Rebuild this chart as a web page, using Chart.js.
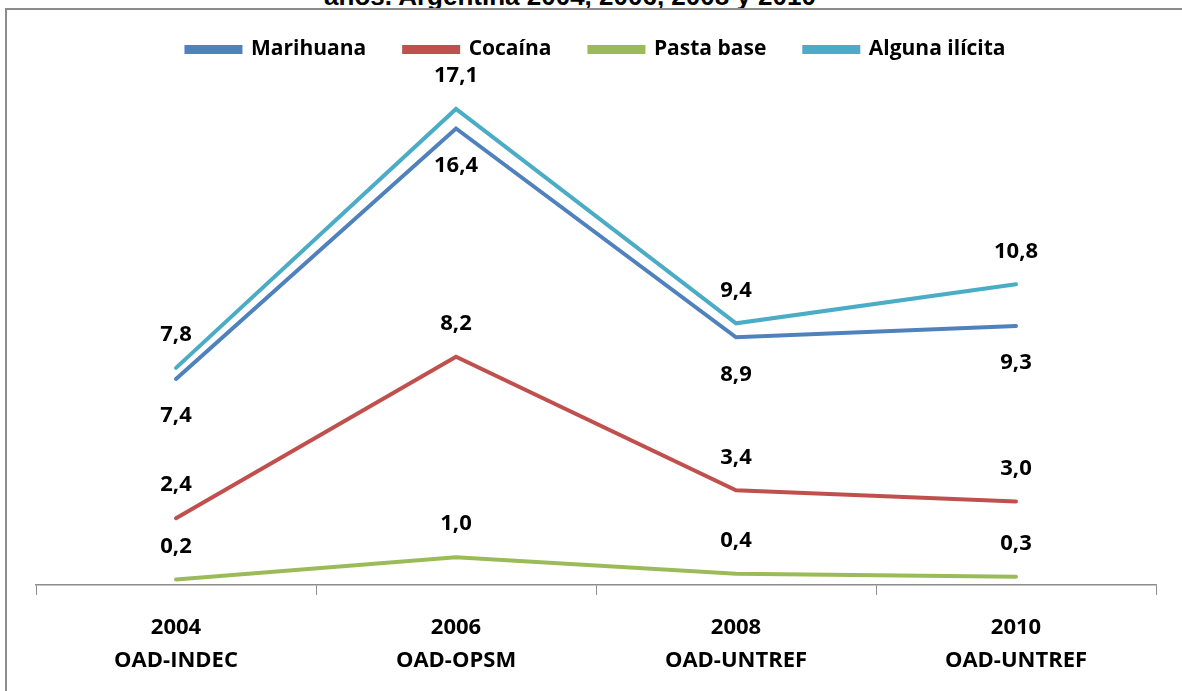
<!DOCTYPE html>
<html>
<head>
<meta charset="utf-8">
<script src="https://cdn.jsdelivr.net/npm/chart.js"></script>
<style>
  html, body { margin: 0; padding: 0; background: #fff; overflow: hidden; }
  #wrap { position: relative; width: 1182px; height: 691px; overflow: hidden; }
  #titulo { position: absolute; left: 0; width: 1140px; top: -17px; text-align: center;
    font: bold 26px "Liberation Sans", Arial, sans-serif; line-height: 26px; color: #000; }
  #marco { position: absolute; left: 5px; top: 8px; width: 1200px; height: 720px;
    border: 2px solid #8c8c8c; box-sizing: border-box; }
  #grafico { position: absolute; left: 0; top: 0; }
</style>
</head>
<body>
<div id="wrap">
  <div id="titulo">años. Argentina 2004, 2006, 2008 y 2010</div>
  <div id="marco"></div>
  <canvas id="grafico" width="1182" height="706"></canvas>
</div>
<script>
// categorías (año / fuente)
var anios = ['2004', '2006', '2008', '2010'];
var fuentes = ['OAD-INDEC', 'OAD-OPSM', 'OAD-UNTREF', 'OAD-UNTREF'];

// prevalencias
var marihuana = [7.4, 16.4, 8.9, 9.3];
var cocaina = [2.4, 8.2, 3.4, 3.0];
var pastaBase = [0.2, 1.0, 0.4, 0.3];
var algunaIlicita = [7.8, 17.1, 9.4, 10.8];

var etiquetas = anios.map(function (a, i) { return [a, fuentes[i]]; });
var fuente = '"Open Sans", "Noto Sans", sans-serif';

// etiquetas de datos: arriba o abajo del punto
var posiciones = ['below', 'above', 'above', 'above'];

var etiquetasDatos = {
    id: 'etiquetasDatos',
    afterDatasetsDraw: function (chart) {
        var ctx = chart.ctx;
        ctx.save();
        ctx.font = 'bold 22px ' + fuente;
        ctx.fillStyle = '#000';
        ctx.textAlign = 'center';
        ctx.textBaseline = 'middle';
        chart.data.datasets.forEach(function (ds, i) {
            var meta = chart.getDatasetMeta(i);
            meta.data.forEach(function (p, j) {
                var txt = ds.data[j].toFixed(1).replace('.', ',');
                var dy = posiciones[i] === 'above' ? -33 : 37;
                ctx.fillText(txt, p.x, p.y + dy);
            });
        });
        ctx.restore();
    }
};

var linea = function (label, data, color) {
    return {
        label: label,
        data: data,
        borderColor: color,
        backgroundColor: color,
        borderWidth: 4,
        pointRadius: 0,
        borderCapStyle: 'round',
        tension: 0
    };
};

var ctx = document.getElementById('grafico');
var myLineChart = new Chart(ctx, {
    type: 'line',
    data: {
        labels: etiquetas,
        datasets: [
            linea('Marihuana', marihuana, '#4F81BD'),
            linea('Cocaína', cocaina, '#C0504D'),
            linea('Pasta base', pastaBase, '#9BBB59'),
            linea('Alguna ilícita', algunaIlicita, '#4BACC6')
        ]
    },
    options: {
        responsive: false,
        animation: false,
        layout: { padding: { left: 36, right: 26, top: 1, bottom: 13 } },
        plugins: {
            legend: {
                position: 'top',
                labels: {
                    boxWidth: 54,
                    boxHeight: 5,
                    padding: 38,
                    color: '#000',
                    font: { family: fuente, size: 21, weight: 'bold' }
                }
            },
            tooltip: { enabled: false }
        },
        scales: {
            x: {
                offset: true,
                grid: {
                    offset: true,
                    drawOnChartArea: false,
                    drawTicks: true,
                    tickLength: 10,
                    color: '#8c8c8c'
                },
                border: { color: '#8c8c8c', width: 1.5 },
                ticks: {
                    color: '#000',
                    padding: 16,
                    maxRotation: 0,
                    font: { family: fuente, size: 22, weight: 'bold', lineHeight: 1.5 }
                }
            },
            y: {
                display: false,
                min: 0,
                max: 18.5
            }
        }
    },
    plugins: [etiquetasDatos]
});
</script>
</body>
</html>
